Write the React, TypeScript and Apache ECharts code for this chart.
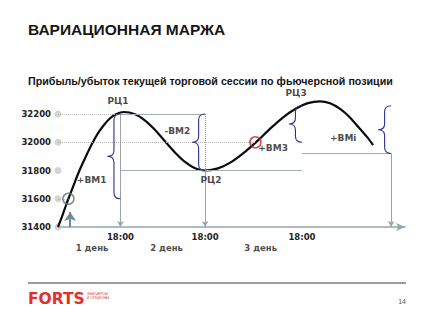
import React, { useEffect, useRef } from 'react';
import * as echarts from 'echarts';

const titleText = 'ВАРИАЦИОННАЯ МАРЖА';
const subtitleText = 'Прибыль/убыток текущей торговой сессии по фьючерсной позиции';
const pageNumber = '14';

const yTicks = [31400, 31600, 31800, 32000, 32200];

// price curve (x in session-time units 0..100)
const curveX = [0, 1.2, 2.3, 3.0, 4.6, 6.3, 8.1, 9.8, 11.5, 13.3, 15.0, 16.7, 19.0, 22.2, 25.1, 28.0, 30.8, 33.7, 36.6, 39.5, 42.4, 46.1, 49.9, 53.6, 57.4, 61.1, 64.8, 68.6, 72.0, 75.5, 78.4, 81.3, 84.2, 87.0, 89.1, 90.8];
const curveY = [31400, 31477, 31554, 31600, 31702, 31807, 31903, 31989, 32063, 32124, 32170, 32199, 32214, 32198, 32153, 32086, 32007, 31928, 31861, 31816, 31800, 31815, 31859, 31926, 32008, 32095, 32175, 32239, 32277, 32290, 32276, 32236, 32174, 32095, 32036, 31980];

const sessionX = [18, 42.4, 70.3];
const sessionLabels = ['18:00', '18:00', '18:00'];
const settlePrices = [32200, 31800, 32258]; // РЦ1, РЦ2, РЦ3
const lastX = 96;
const lastLow = 31920;

const entryX = [3.0, 56.9];
const entryPrices = [31600, 32000];

const dayNames = ['1 день', '2 день', '3 день'];
const dayX = [9.8, 31.3, 58.4];

const noteNames = ['РЦ1', '+ВМ1', '-ВМ2', 'РЦ2', 'РЦ3', '+ВМ3', '+ВМi'];
const noteX = [17.3, 9.7, 34.4, 44.1, 68.6, 62.0, 82.2];
const noteY = [32292, 31733, 32080, 31733, 32349, 31959, 32030];

const braceX = [18, 42.4, 70.3, 96];
const braceTop = [32200, 32200, 32258, 32258];
const braceBottom = [31600, 31800, 32000, 31920];

const arrowX = [3.5, 56.9];
const arrowFrom = [31400, 32214];
const arrowTo = [31506, 32080];

const FONT = '"DejaVu Sans", Verdana, sans-serif';

export default function App() {
  const ref = useRef<HTMLDivElement>(null);
  useEffect(() => {
    if (!ref.current) return;
    const chart = echarts.init(ref.current, undefined, { renderer: 'svg' });

    const solid = { color: '#a4aeb2', width: 1, type: 'solid' };
    const dotted = { color: '#b4b4b4', width: 1, type: 'dotted' };
    const seg = (x1: number, y1: number, x2: number, y2: number, lineStyle: any, arrow = false, size: any = 6) => [
      { coord: [x1, y1], symbol: 'none', lineStyle },
      { coord: [x2, y2], symbol: arrow ? 'arrow' : 'none', symbolSize: size },
    ];
    const vStyle = { ...solid, color: '#9aa3a6' };

    const guides: any[] = [
      seg(0, settlePrices[0], sessionX[0], settlePrices[0], dotted),
      seg(0, entryPrices[1], entryX[1], entryPrices[1], dotted),
      seg(0, entryPrices[0], entryX[0], entryPrices[0], dotted),
      seg(sessionX[0], settlePrices[0], sessionX[1], settlePrices[0], solid),
      seg(sessionX[0], settlePrices[1], sessionX[2], settlePrices[1], solid),
      seg(sessionX[2], settlePrices[2], lastX, settlePrices[2], solid),
      seg(sessionX[2], lastLow, lastX, lastLow, solid),
      seg(sessionX[0], settlePrices[0], sessionX[0], yTicks[0], vStyle, true, [5, 6]),
      seg(sessionX[1], settlePrices[1], sessionX[1], yTicks[0], vStyle, true, [5, 6]),
      seg(sessionX[2], settlePrices[2], sessionX[2], yTicks[0], vStyle, true, [5, 6]),
      seg(lastX, lastLow, lastX, yTicks[0], vStyle, true, [5, 6]),
      seg(sessionX[1], settlePrices[0], sessionX[1], settlePrices[1], { color: '#5fb86a', width: 1, type: 'dotted' }),
      seg(lastX, settlePrices[2], lastX, lastLow, { color: '#b070c8', width: 1, type: 'dotted' }),
      seg(arrowX[0], arrowFrom[0], arrowX[0], arrowTo[0], { color: '#6e8c96', width: 2, type: 'solid' }, true, [9, 9]),
      seg(arrowX[1], arrowFrom[1], arrowX[1], arrowTo[1], { color: '#c21f3d', width: 3, type: 'solid' }, true, [11, 10]),
    ];

    const option: any = {
      animation: false,
      backgroundColor: '#ffffff',
      grid: { left: 58, right: 22, top: 114, bottom: 93, containLabel: false, outerBoundsMode: 'none' },
      xAxis: {
        type: 'value',
        min: 0,
        max: 100,
        splitLine: { show: false },
        axisTick: { show: false },
        axisLine: { show: true, lineStyle: { color: '#8ea6ae', width: 1.5 }, symbol: ['none', 'arrow'], symbolSize: [6, 9] },
        axisLabel: {
          customValues: sessionX,
          formatter: (v: number) => {
            let best = 0;
            sessionX.forEach((s, i) => { if (Math.abs(s - v) < Math.abs(sessionX[best] - v)) best = i; });
            return sessionLabels[best];
          },
          fontFamily: FONT,
          fontWeight: 'bold',
          fontSize: 8.5,
          color: '#1e1e1e',
          margin: 5,
          hideOverlap: false,
        },
      },
      yAxis: {
        type: 'value',
        min: 31400,
        max: 32200,
        interval: 200,
        splitLine: { show: false },
        axisTick: { show: false },
        axisLine: { show: false },
        axisLabel: { formatter: (v: number) => String(v), fontFamily: FONT, fontWeight: 'bold', fontSize: 8.5, color: '#222', margin: 7 },
      },
      graphic: [
        { type: 'text', x: 28, y: 29, style: { text: titleText, font: 'bold 15.5px "Liberation Sans", Arial, sans-serif', fill: '#161616', verticalAlign: 'middle' } },
        { type: 'text', x: 28, y: 81, style: { text: subtitleText, font: 'bold 10.7px "Liberation Sans", Arial, sans-serif', fill: '#141414', verticalAlign: 'middle' } },
        { type: 'line', shape: { x1: 28, y1: 283, x2: 406, y2: 283 }, style: { stroke: '#9c9c9c', lineWidth: 2 } },
        { type: 'text', x: 28, y: 299, style: { text: 'FORTS', font: 'bold 15.5px "DejaVu Sans", sans-serif', fill: '#e2302c', verticalAlign: 'middle' } },
        { type: 'text', x: 87, y: 296, style: { text: 'ФЬЮЧЕРСЫ\nИ ОПЦИОНЫ', font: '3.5px "Liberation Sans", Arial, sans-serif', fill: '#d43a3a', verticalAlign: 'middle', lineHeight: 4 } },
        { type: 'text', x: 406, y: 301, style: { text: pageNumber, font: '7px "Liberation Sans", Arial, sans-serif', fill: '#555', align: 'right', verticalAlign: 'middle' } },
      ],
      series: [
        {
          type: 'line',
          name: 'guides',
          data: [],
          silent: true,
          clip: false,
          z: 2,
          markLine: { silent: true, symbol: ['none', 'none'], label: { show: false }, emphasis: { disabled: true }, data: guides, animation: false },
        },
        {
          type: 'scatter',
          name: 'tickDots',
          data: yTicks.map((v) => [0, v]),
          symbolSize: 7,
          itemStyle: { color: '#c8c8c8' },
          silent: true,
          clip: false,
          z: 2,
        },
        {
          type: 'line',
          name: 'price',
          data: curveX.map((x, i) => [x, curveY[i]]),
          smooth: 0.3,
          showSymbol: false,
          clip: false,
          lineStyle: { color: '#0c0c0c', width: 2.2 },
          silent: true,
          z: 4,
        },
        {
          type: 'custom',
          name: 'braces',
          data: braceX.map((x, i) => [x, braceTop[i], braceBottom[i]]),
          encode: { x: 0, y: [1, 2] },
          clip: false,
          silent: true,
          z: 5,
          renderItem: (params: any, api: any) => {
            const p1 = api.coord([api.value(0), api.value(1)]);
            const p2 = api.coord([api.value(0), api.value(2)]);
            const X = p1[0], T = p1[1], B = p2[1], M = (T + B) / 2;
            const w = 13, h = 6, c = X - w / 2;
            const d = `M${X},${T} Q${c},${T} ${c},${T + h} L${c},${M - h} Q${c},${M} ${X - w},${M} Q${c},${M} ${c},${M + h} L${c},${B - h} Q${c},${B} ${X},${B}`;
            return { type: 'path', shape: { pathData: d }, style: { fill: 'none', stroke: '#2b3192', lineWidth: 1.1 } };
          },
        },
        {
          type: 'scatter',
          name: 'entries',
          data: entryX.map((x, i) => ({
            value: [x, entryPrices[i]],
            itemStyle: { color: 'rgba(0,0,0,0)', borderColor: i === 0 ? '#5f7880' : '#c21f3d', borderWidth: 1.6 },
          })),
          symbolSize: 11,
          silent: true,
          clip: false,
          z: 6,
        },
        {
          type: 'scatter',
          name: 'notes',
          data: noteNames.map((n, i) => ({ name: n, value: [noteX[i], noteY[i]] })),
          symbolSize: 1,
          itemStyle: { color: 'rgba(0,0,0,0)' },
          label: { show: true, position: 'inside', formatter: '{b}', fontFamily: FONT, fontWeight: 'bold', fontSize: 9, color: '#181818' },
          silent: true,
          clip: false,
          z: 7,
        },
        {
          type: 'scatter',
          name: 'days',
          data: dayNames.map((n, i) => ({ name: n, value: [dayX[i], yTicks[0]] })),
          symbolSize: 1,
          itemStyle: { color: 'rgba(0,0,0,0)' },
          label: { show: true, position: 'inside', offset: [0, 21], formatter: '{b}', fontFamily: FONT, fontWeight: 'bold', fontSize: 8.5, color: '#181818' },
          silent: true,
          clip: false,
          z: 7,
        },
      ],
    };
    chart.setOption(option);
    return () => chart.dispose();
  }, []);
  return <div ref={ref} style={{ position: 'fixed', left: 0, top: 0, width: 427, height: 320, background: '#fff' }} />;
}
